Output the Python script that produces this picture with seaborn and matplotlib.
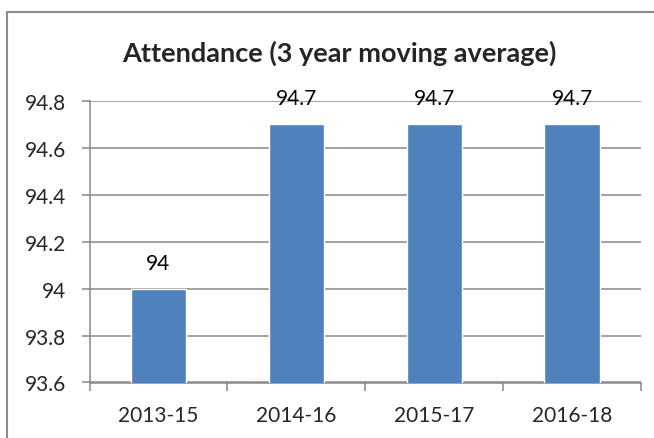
import matplotlib
matplotlib.use("Agg")
import matplotlib.pyplot as plt
import seaborn as sns
import pandas as pd
from matplotlib.lines import Line2D

categories = ["2013-15", "2014-16", "2015-17", "2016-18"]
values = [94.0, 94.7, 94.7, 94.7]
value_labels = ["94", "94.7", "94.7", "94.7"]
y_ticks = [93.6, 93.8, 94.0, 94.2, 94.4, 94.6, 94.8]
y_tick_labels = ["93.6", "93.8", "94", "94.2", "94.4", "94.6", "94.8"]
title = "Attendance (3 year moving average)"

sns.set_style("white")
plt.rcParams["font.family"] = ["Lato", "DejaVu Sans"]

df = pd.DataFrame({"period": categories, "value": values})

W, H = 654, 439
fig = plt.figure(figsize=(W/100, H/100), dpi=100)
ax = fig.add_axes([89.5/W, 1-383.5/H, (641-89.5)/W, (383.5-102)/H])

sns.barplot(data=df, x="period", y="value", color="#4F81BD", width=0.4,
            saturation=1, ax=ax, zorder=3)

ax.set_ylim(93.6, 94.8)
ax.set_yticks(y_ticks)
ax.set_yticklabels(y_tick_labels)
ax.set_xlim(-0.5, 3.5)
ax.set_xlabel("")
ax.set_ylabel("")

grid_c = "#888888"
ax.grid(axis="y", color=grid_c, linewidth=1.1, zorder=0)
ax.set_axisbelow(True)
for s in ["top", "right"]:
    ax.spines[s].set_visible(False)
for s in ["left", "bottom"]:
    ax.spines[s].set_color(grid_c)
    ax.spines[s].set_linewidth(1.1)

fs = 15
ax.tick_params(axis="y", which="major", length=6, width=1.1, color=grid_c,
               labelsize=fs, pad=11, left=True)
ax.tick_params(axis="x", which="major", length=0, labelsize=fs, pad=16)
ax.set_xticks([-0.5, 0.5, 1.5, 2.5, 3.5], minor=True)
ax.tick_params(axis="x", which="minor", length=6, width=1.1, color=grid_c,
               bottom=True, direction="out")

for i, (v, lab) in enumerate(zip(values, value_labels)):
    ax.annotate(lab, (i, v), xytext=(0, 14.5), textcoords="offset points",
                ha="center", va="baseline", fontsize=fs, color="black",
                annotation_clip=False, zorder=5)

fig.text(339/W, 1-61.5/H, title, ha="center", va="baseline",
         fontsize=19.5, fontweight="bold")

# chart-area border (top and left edges visible; the rest is cropped)
fig.add_artist(Line2D([7/W, 7/W], [0, 1-13/H], transform=fig.transFigure,
                      color="#8C8C8C", linewidth=1.5))
fig.add_artist(Line2D([7/W, 1], [1-13/H, 1-13/H], transform=fig.transFigure,
                      color="#8C8C8C", linewidth=1.5))

fig.savefig("out.png", dpi=100, facecolor="white")
